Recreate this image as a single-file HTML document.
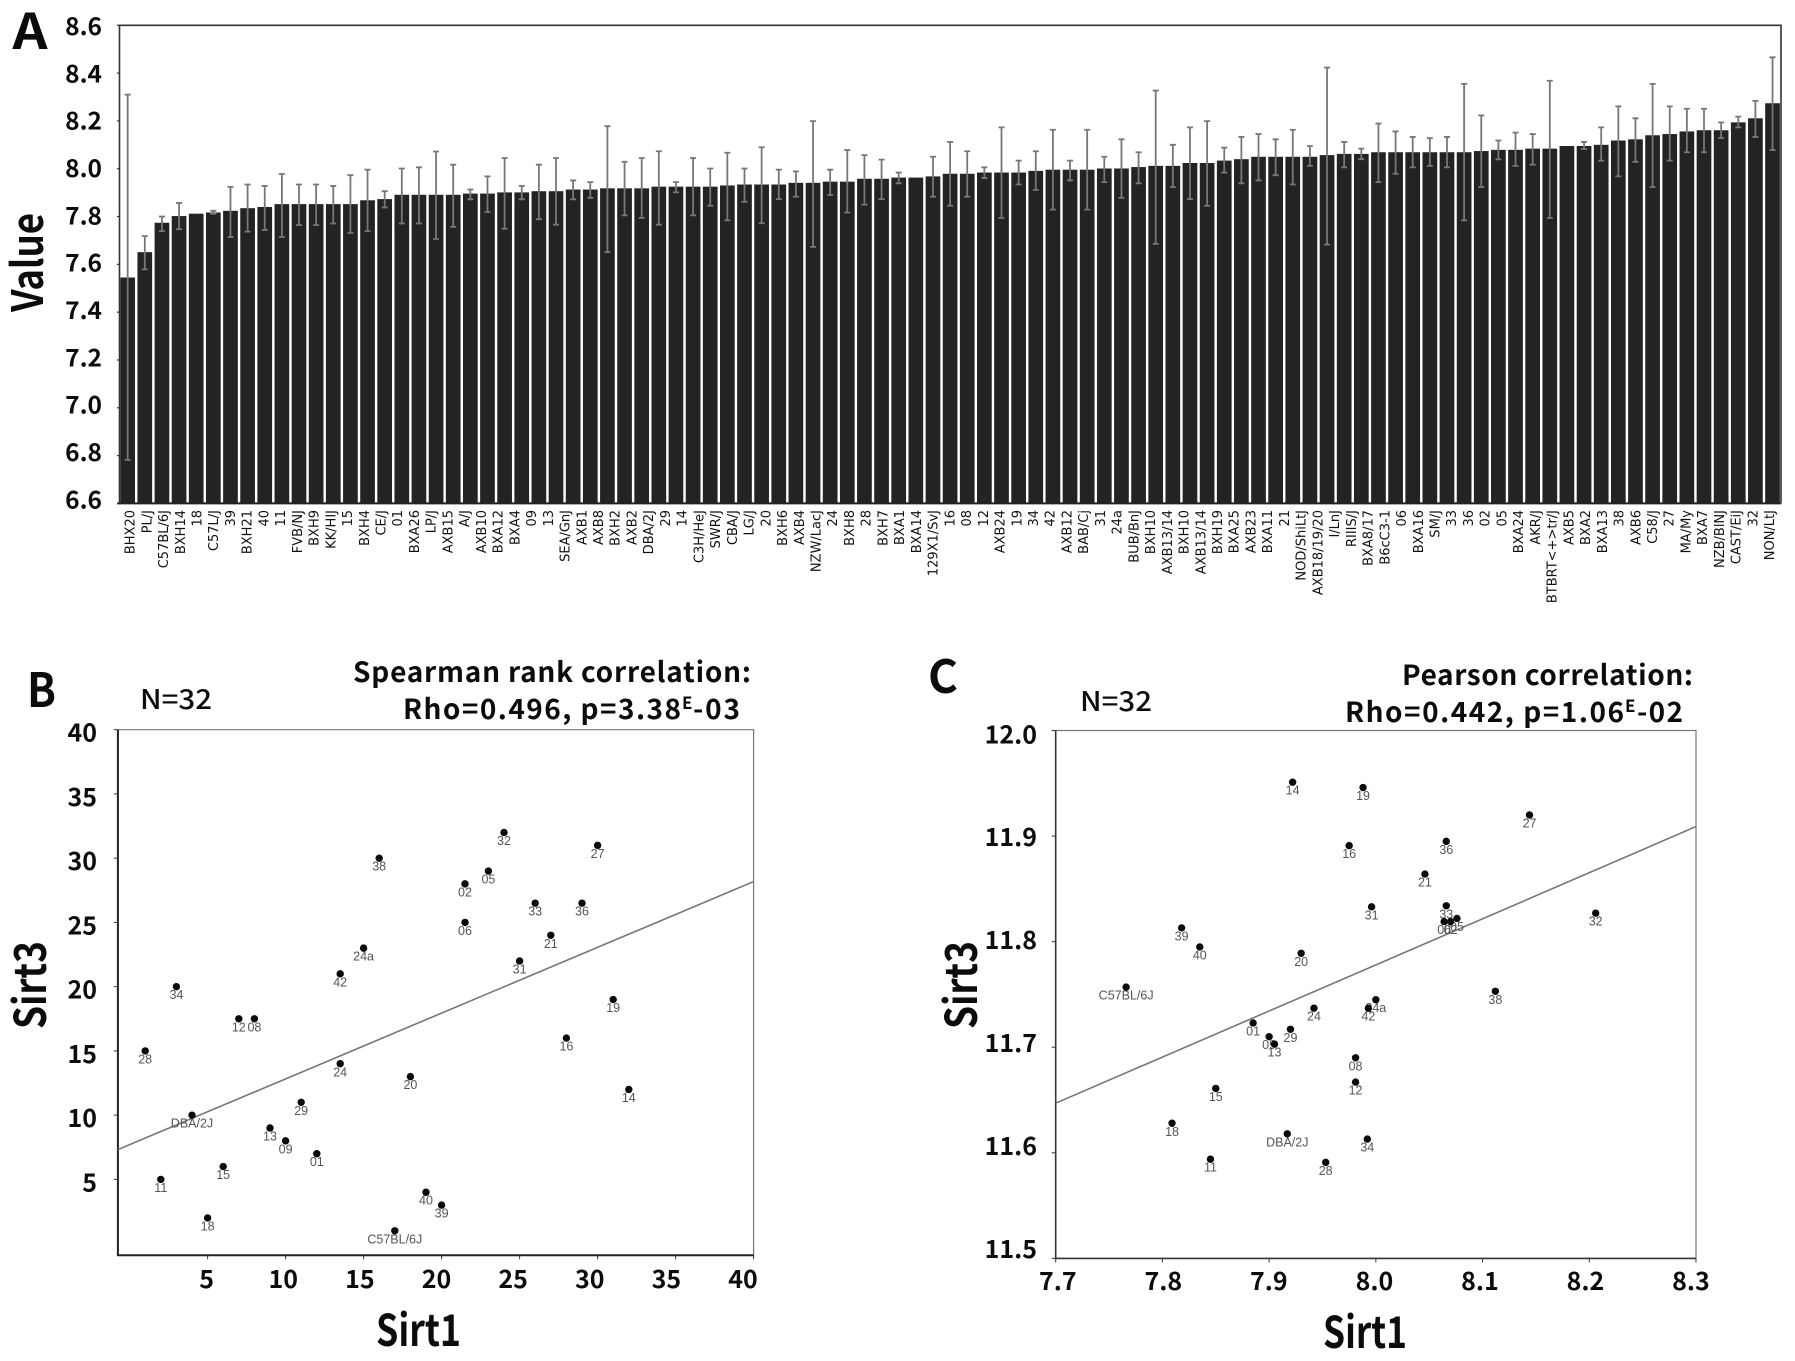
<!DOCTYPE html>
<html lang="en">
<head>
<meta charset="utf-8">
<title>Sirt1 and Sirt3 expression</title>
<style>
html,body{margin:0;padding:0;background:#fff;width:1795px;height:1361px;overflow:hidden}
svg{display:block}
.h{font-family:"Noto Sans CJK KR","Liberation Sans",sans-serif;font-weight:700;fill:#0c0c0c}
.tick{font-size:25px}
.tickA{font-size:24.5px}
.xcat{font-family:"DejaVu Sans","Liberation Sans",sans-serif;font-size:13px;fill:#111}
.pt{font-family:"Liberation Sans",sans-serif;font-size:12.5px;fill:#555}
</style>
</head>
<body>
<svg id="fig" xmlns="http://www.w3.org/2000/svg" width="1795" height="1361" viewBox="0 0 1795 1361">
  <rect x="0" y="0" width="1795" height="1361" fill="#fff"/>

  <g id="panelA"></g>
  <g id="panelB"></g>
  <g id="panelC"></g>

  <text class="h" x="12.5" y="49" font-size="49" textLength="35" lengthAdjust="spacingAndGlyphs">A</text>
  <text class="h" transform="translate(43,312) rotate(-90)" font-size="43" textLength="99" lengthAdjust="spacingAndGlyphs">Value</text>

  <text class="h" x="27" y="707" font-size="47" textLength="29" lengthAdjust="spacingAndGlyphs">B</text>
  <text class="h" x="140" y="709" font-size="27" textLength="72" lengthAdjust="spacingAndGlyphs" style="font-weight:500">N=32</text>
  <text class="h" x="353" y="682" font-size="28" textLength="398" lengthAdjust="spacing">Spearman rank correlation:</text>
  <text class="h" x="403" y="719" font-size="28" textLength="278" lengthAdjust="spacing">Rho=0.496, p=3.38</text>
  <text class="h" x="682" y="709" font-size="17">E</text>
  <text class="h" x="693" y="719" font-size="28" textLength="47" lengthAdjust="spacing">-03</text>
  <text class="h" transform="translate(46,1029) rotate(-90)" font-size="44" textLength="88" lengthAdjust="spacingAndGlyphs">Sirt3</text>
  <text class="h" x="376" y="1346" font-size="44" textLength="85" lengthAdjust="spacingAndGlyphs">Sirt1</text>

  <text class="h" x="928" y="693" font-size="46" textLength="30" lengthAdjust="spacingAndGlyphs">C</text>
  <text class="h" x="1080" y="711" font-size="27" textLength="72" lengthAdjust="spacingAndGlyphs" style="font-weight:500">N=32</text>
  <text class="h" x="1402" y="685" font-size="28" textLength="291" lengthAdjust="spacing">Pearson correlation:</text>
  <text class="h" x="1345" y="722" font-size="28" textLength="279" lengthAdjust="spacing">Rho=0.442, p=1.06</text>
  <text class="h" x="1625" y="712" font-size="17">E</text>
  <text class="h" x="1637" y="722" font-size="28" textLength="46" lengthAdjust="spacing">-02</text>
  <text class="h" transform="translate(977,1029) rotate(-90)" font-size="44" textLength="88" lengthAdjust="spacingAndGlyphs">Sirt3</text>
  <text class="h" x="1323" y="1348" font-size="44" textLength="84" lengthAdjust="spacingAndGlyphs">Sirt1</text>
</svg>

<script>
/* ---------- Panel A data ---------- */
const strainLabels = ["BHX20","PL/J","C57BL/6J","BXH14","18","C57L/J","39","BXH21","40","11","FVB/NJ","BXH9","KK/HIJ","15","BXH4","CE/J","01","BXA26","LP/J","AXB15","A/J","AXB10","BXA12","BXA4","09","13","SEA/GnJ","AXB1","AXB8","BXH2","AXB2","DBA/2J","29","14","C3H/HeJ","SWR/J","CBA/J","LG/J","20","BXH6","AXB4","NZW/LacJ","24","BXH8","28","BXH7","BXA1","BXA14","129X1/SvJ","16","08","12","AXB24","19","34","42","AXB12","BAB/Cj","31","24a","BUB/BnJ","BXH10","AXB13/14","BXH10","AXB13/14","BXH19","BXA25","AXB23","BXA11","21","NOD/ShiLtJ","AXB18/19/20","I/LnJ","RIIIS/J","BXA8/17","B6cC3-1","06","BXA16","SM/J","33","36","02","05","BXA24","AKR/J","BTBRT<+>tr/J","AXB5","BXA2","BXA13","38","AXB6","C58/J","27","MA/My","BXA7","NZB/BlNJ","CAST/EiJ","32","NON/LtJ"];
const barValues = [7.545,7.651,7.774,7.802,7.812,7.817,7.824,7.835,7.840,7.852,7.852,7.852,7.852,7.852,7.868,7.873,7.891,7.891,7.891,7.891,7.896,7.896,7.901,7.901,7.906,7.906,7.913,7.913,7.918,7.918,7.918,7.925,7.925,7.925,7.925,7.930,7.934,7.934,7.934,7.941,7.941,7.946,7.946,7.958,7.958,7.963,7.963,7.968,7.979,7.979,7.984,7.984,7.984,7.991,7.996,7.996,7.996,8.001,8.001,8.007,8.012,8.012,8.024,8.024,8.034,8.040,8.050,8.050,8.050,8.050,8.057,8.062,8.062,8.069,8.069,8.069,8.069,8.069,8.069,8.074,8.079,8.079,8.084,8.084,8.095,8.095,8.100,8.118,8.123,8.140,8.145,8.156,8.161,8.161,8.194,8.211,8.274];
const errorHigh = [8.310,7.718,7.800,7.857,7.812,7.824,7.924,7.934,7.928,7.978,7.934,7.934,7.928,7.973,7.996,7.906,8.001,8.006,8.072,8.017,7.913,7.968,8.045,7.928,8.017,8.045,7.951,7.944,8.178,8.029,8.045,8.073,7.944,8.045,8.001,8.067,8.001,8.090,7.996,7.989,8.199,7.996,8.078,8.057,8.038,7.984,7.963,8.050,8.112,8.073,8.006,8.173,8.034,8.073,8.163,8.034,8.163,8.050,8.123,8.069,8.327,8.100,8.173,8.199,8.088,8.133,8.145,8.123,8.163,8.095,8.423,8.112,8.084,8.189,8.156,8.133,8.128,8.133,8.355,8.223,8.118,8.151,8.145,8.368,8.095,8.112,8.173,8.261,8.211,8.355,8.261,8.251,8.251,8.194,8.218,8.284,8.466];
const errorLow = [6.782,7.579,7.739,7.747,7.812,7.812,7.714,7.737,7.744,7.714,7.764,7.764,7.771,7.731,7.739,7.838,7.771,7.771,7.706,7.757,7.872,7.819,7.749,7.872,7.789,7.766,7.872,7.878,7.651,7.805,7.794,7.766,7.901,7.805,7.845,7.784,7.862,7.772,7.873,7.883,7.673,7.890,7.817,7.850,7.873,7.939,7.963,7.883,7.845,7.883,7.961,7.794,7.934,7.911,7.829,7.951,7.829,7.944,7.878,7.939,7.686,7.923,7.873,7.845,7.984,7.939,7.951,7.973,7.934,8.012,7.683,8.006,8.040,7.944,7.979,8.006,8.012,8.006,7.784,7.923,8.039,8.012,8.017,7.794,8.095,8.082,8.034,7.968,8.029,7.923,8.034,8.069,8.069,8.128,8.173,8.133,8.078];
const valueTicks = ["8.6","8.4","8.2","8.0","7.8","7.6","7.4","7.2","7.0","6.8","6.6"];

/* ---------- Panel B data ---------- */
const rankNames = ["28","11","34","DBA/2J","18","15","12","08","13","09","29","01","24","42","24a","38","C57BL/6J","20","40","39","02","06","05","32","31","33","21","16","36","27","19","14"];
const rankSirt1 = [1,2,3,4,5,6,7,8,9,10,11,12,13.5,13.5,15,16,17,18,19,20,21.5,21.5,23,24,25,26,27,28,29,30,31,32];
const rankSirt3 = [15,5,20,10,2,6,17.5,17.5,9,8,11,7,14,21,23,30,1,13,4,3,28,25,29,32,22,26.5,24,16,26.5,31,19,12];
const rankFitEnds = [7.32,28.18];
const rankXTicks = ["5","10","15","20","25","30","35","40"];
const rankYTicks = ["5","10","15","20","25","30","35","40"];

/* ---------- Panel C data ---------- */
const exprNames = ["14","19","27","36","16","21","31","33","05","06","02","32","39","40","20","C57BL/6J","38","24a","24","42","01","29","09","13","08","12","15","18","DBA/2J","34","11","28"];
const exprSirt1 = [7.922,7.988,8.144,8.066,7.975,8.046,7.996,8.066,8.076,8.064,8.070,8.206,7.818,7.835,7.930,7.766,8.112,8.000,7.942,7.993,7.885,7.920,7.900,7.905,7.981,7.981,7.850,7.809,7.917,7.992,7.845,7.953];
const exprSirt3 = [11.951,11.946,11.920,11.895,11.891,11.864,11.833,11.834,11.822,11.819,11.819,11.827,11.813,11.795,11.789,11.757,11.753,11.745,11.737,11.737,11.723,11.717,11.710,11.703,11.690,11.667,11.661,11.628,11.618,11.613,11.594,11.591];
const exprFitEnds = [11.647,11.909];
const exprXTicks = ["7.7","7.8","7.9","8.0","8.1","8.2","8.3"];
const exprYTicks = ["11.5","11.6","11.7","11.8","11.9","12.0"];

const NS = 'http://www.w3.org/2000/svg';
function mk(tag, attrs, parent, txt) {
  const el = document.createElementNS(NS, tag);
  for (const k in attrs) el.setAttribute(k, attrs[k]);
  if (txt !== undefined) el.textContent = txt;
  parent.appendChild(el);
  return el;
}
function linear(d0, d1, r0, r1) {
  return v => r0 + (v - d0) * (r1 - r0) / (d1 - d0);
}

/* ---------- Panel A ---------- */
(function () {
  const g = document.getElementById('panelA');
  const L = 119.5, R = 1781, T = 25.3, B = 503.4;
  const y = linear(6.6, 8.6, B, T);
  const tickBaseline = linear(6.6, 8.6, 508.3, 35);
  const step = (R - L + 0.5) / barValues.length;
  const barX = i => L - 0.4 + step * (i + 0.5);
  const labelStep = 16.73;
  const labelX = i => 121.2 + labelStep * (i + 0.5);

  barValues.forEach((v, i) => {
    const r = mk('rect', {x: barX(i) - 7.35, y: y(v), width: 14.7, height: B - y(v), fill: '#232323'}, g);
    
    
  });
  barValues.forEach((v, i) => {
    const cx = barX(i), hi = y(errorHigh[i]), lo = y(errorLow[i]);
    if (Math.abs(hi - lo) < 0.5) return;
    const e = mk('path', {d: `M${cx} ${hi}V${lo}M${cx - 3} ${hi}H${cx + 3}M${cx - 3} ${lo}H${cx + 3}`, stroke: '#777', 'stroke-width': 1.8, fill: 'none'}, g);
    
    
  });
  const frame = mk('path', {d: `M${L} ${B}V${T}H${R}V${B}`, fill: 'none', stroke: '#333', 'stroke-width': 1.6}, g);
  
  
  const base = mk('line', {x1: 117, x2: R, y1: B, y2: B, stroke: '#222', 'stroke-width': 2}, g);
  
  

  valueTicks.forEach(t => {
    const v = parseFloat(t);
    const tm = mk('line', {x1: 117, x2: L, y1: y(v), y2: y(v), stroke: '#333', 'stroke-width': 1.2}, g);
    
    
    const lb = mk('text', {x: 102, y: tickBaseline(v), 'text-anchor': 'end', class: 'h tickA'}, g, t);
    
    
  });
  strainLabels.forEach((s, i) => {
    const px = labelX(i) + 5, py = 510;
    const lb = mk('text', {transform: `translate(${px},${py}) rotate(-90)`, 'text-anchor': 'end', class: 'xcat'}, g, s);
    
    
  });
})();

/* ---------- Panel B ---------- */
(function () {
  const g = document.getElementById('panelB');
  const L = 117.9, R = 753.6, T = 729.7, B = 1255.2;
  const x = linear(-0.75, 40, L, R);
  const y = linear(-0.9, 40, B, T);
  const tickLabelX = linear(5, 40, 206.6, 743);

  const fr = mk('path', {d: `M${L} ${T}H${R}V${B}`, fill: 'none', stroke: '#777', 'stroke-width': 1.2}, g);
  
  
  const ax = mk('path', {d: `M${L} ${T}V${B}H${R}`, fill: 'none', stroke: '#222', 'stroke-width': 2}, g);
  
  

  rankXTicks.forEach(t => {
    const v = parseFloat(t);
    const tm = mk('line', {x1: x(v), x2: x(v), y1: B, y2: B + 4, stroke: '#333', 'stroke-width': 1}, g);
    
    
    const lb = mk('text', {x: tickLabelX(v), y: 1288, 'text-anchor': 'middle', class: 'h tick'}, g, t);
    
    
  });
  rankYTicks.forEach(t => {
    const v = parseFloat(t);
    const tm = mk('line', {x1: L - 4, x2: L, y1: y(v), y2: y(v), stroke: '#333', 'stroke-width': 1}, g);
    
    
    const lb = mk('text', {x: 97, y: y(v) + 12, 'text-anchor': 'end', class: 'h tick'}, g, t);
    
    
  });
  const fit = mk('line', {x1: x(-0.75), y1: y(rankFitEnds[0]), x2: x(40), y2: y(rankFitEnds[1]), stroke: '#777', 'stroke-width': 1.6}, g);
  
  

  rankNames.forEach((n, i) => {
    const lb = mk('text', {x: x(rankSirt1[i]), y: y(rankSirt3[i]) + 12.5, 'text-anchor': 'middle', class: 'pt'}, g, n);
    
    
  });
  rankNames.forEach((n, i) => {
    const c = mk('circle', {cx: x(rankSirt1[i]), cy: y(rankSirt3[i]), r: 3.7, fill: '#0a0a0a'}, g);
    
    
  });
})();

/* ---------- Panel C ---------- */
(function () {
  const g = document.getElementById('panelC');
  const L = 1055.7, R = 1696, T = 730.5, B = 1258.4;
  const x = linear(7.7, 8.3, L, R);
  const y = linear(11.5, 12.0, B, T);
  const tickLabelX = linear(7.7, 8.3, 1057.8, 1691);
  const tickBaselineY = linear(11.5, 12.0, 1258, 743.3);

  const fr = mk('path', {d: `M${L} ${T}H${R}V${B}`, fill: 'none', stroke: '#777', 'stroke-width': 1.2}, g);
  
  
  const ax = mk('path', {d: `M${L} ${T}V${B}H${R}`, fill: 'none', stroke: '#333', 'stroke-width': 1.6}, g);
  
  

  exprXTicks.forEach(t => {
    const v = parseFloat(t);
    const tm = mk('line', {x1: x(v), x2: x(v), y1: B, y2: B + 4, stroke: '#333', 'stroke-width': 1}, g);
    
    
    const lb = mk('text', {x: tickLabelX(v), y: 1290, 'text-anchor': 'middle', class: 'h tick'}, g, t);
    
    
  });
  exprYTicks.forEach(t => {
    const v = parseFloat(t);
    const tm = mk('line', {x1: L - 4, x2: L, y1: y(v), y2: y(v), stroke: '#333', 'stroke-width': 1}, g);
    
    
    const lb = mk('text', {x: 1037, y: tickBaselineY(v), 'text-anchor': 'end', class: 'h tick'}, g, t);
    
    
  });
  const fit = mk('line', {x1: x(7.7), y1: y(exprFitEnds[0]), x2: x(8.3), y2: y(exprFitEnds[1]), stroke: '#777', 'stroke-width': 1.6}, g);
  
  

  exprNames.forEach((n, i) => {
    const lb = mk('text', {x: x(exprSirt1[i]), y: y(exprSirt3[i]) + 12.5, 'text-anchor': 'middle', class: 'pt'}, g, n);
    
    
  });
  exprNames.forEach((n, i) => {
    const c = mk('circle', {cx: x(exprSirt1[i]), cy: y(exprSirt3[i]), r: 3.7, fill: '#0a0a0a'}, g);
    
    
  });
})();
</script>
</body>
</html>
